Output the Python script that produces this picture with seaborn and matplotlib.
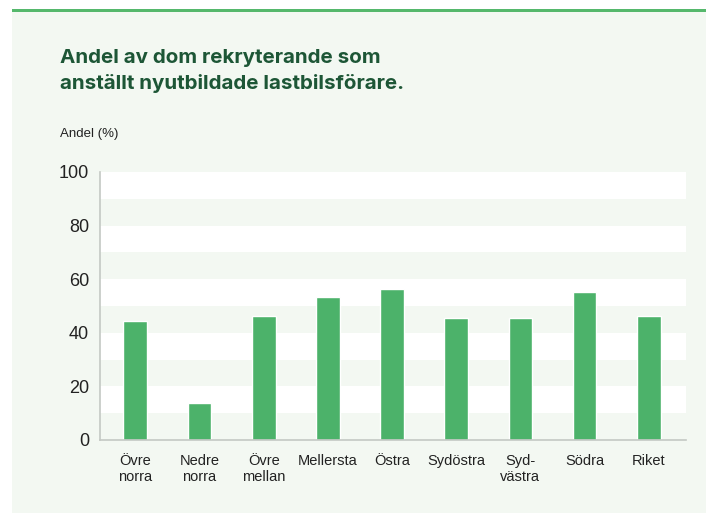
import matplotlib
matplotlib.use("Agg")
import matplotlib.pyplot as plt
import seaborn as sns
import pandas as pd
from matplotlib.patches import Rectangle

# data
regions = ["Övre\nnorra", "Nedre\nnorra", "Övre\nmellan", "Mellersta", "Östra",
           "Sydöstra", "Syd-\nvästra", "Södra", "Riket"]
andel = [44.4, 13.8, 46.4, 53.5, 56.3, 45.5, 45.5, 55.2, 46.4]
yticks = [0, 20, 40, 60, 80, 100]

bg = "#f3f8f2"
bar_color = "#4cb26a"
title_color = "#1d5636"

sns.set_theme(style="white")
plt.rcParams['font.family'] = ['Liberation Sans', 'DejaVu Sans']

df = pd.DataFrame({"Region": regions, "Andel": andel})

fig = plt.figure(figsize=(7.06, 5.13), dpi=100)
fig.patch.set_facecolor("white")
# light panel + green top line
fig.add_artist(Rectangle((12 / 706, 0), 1, 1 - 10 / 513, transform=fig.transFigure,
                         facecolor=bg, edgecolor="none", zorder=0))
fig.add_artist(Rectangle((12 / 706, 1 - 12 / 513), 1, 3 / 513, transform=fig.transFigure,
                         facecolor="#55b86c", edgecolor="none", zorder=1))

ax = fig.add_axes([100 / 706, 1 - 440 / 513, 586 / 706, 268 / 513])
ax.set_facecolor("white")

# alternating bands every 10 units
for lo in range(0, 100, 10):
    if (lo // 10) % 2 == 0:
        ax.axhspan(lo, lo + 10, color=bg, zorder=0, lw=0)

sns.barplot(data=df, x="Region", y="Andel", color=bar_color, width=0.37,
            saturation=1, ax=ax, zorder=2)

ax.set_ylim(0, 100)
ax.set_xlim(-0.55, len(regions) - 0.42)
ax.set_yticks(yticks)
ax.set_yticklabels([str(t) for t in yticks], fontsize=13, color="#222222")
ax.tick_params(axis="y", length=0, pad=8)
ax.tick_params(axis="x", length=0, pad=10, labelsize=10.5, labelcolor="#222222")
ax.set_xlabel("")
ax.set_ylabel("")
for s in ["top", "right"]:
    ax.spines[s].set_visible(False)
for s in ["left", "bottom"]:
    ax.spines[s].set_color("#c4c8c4")
    ax.spines[s].set_linewidth(1.2)
ax.spines["left"].set_zorder(3)

fig.text(60 / 706, 1 - 71 / 513, "Andel av dom rekryterande som\nanställt nyutbildade lastbilsförare.",
         fontsize=14.8, fontweight="bold", color=title_color, va="center", ha="left",
         family=["Inter", "DejaVu Sans"], linespacing=1.5)
fig.text(60 / 706, 1 - 134 / 513, "Andel (%)", fontsize=9.5, color="#222222",
         va="center", ha="left")

fig.savefig("out.png", dpi=100, facecolor=fig.get_facecolor())
